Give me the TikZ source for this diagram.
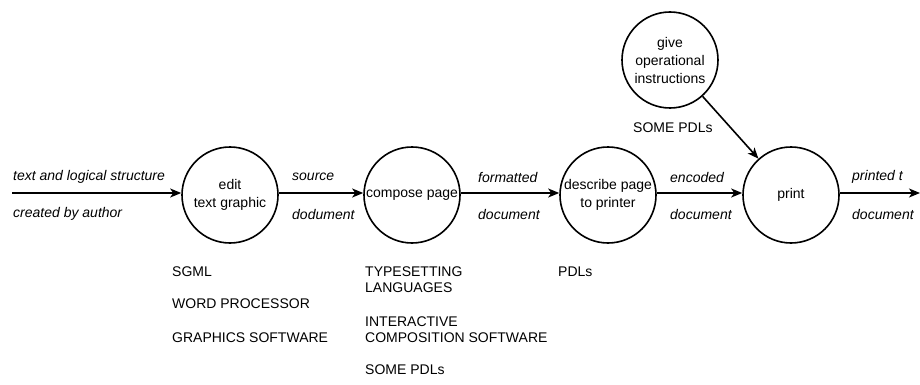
\documentclass[tikz,border=0pt]{standalone}
\usepackage{fontspec}
\setmainfont{Liberation Sans}
\usetikzlibrary{arrows.meta}
\begin{document}
\begin{tikzpicture}[x=1pt,y=-1pt,
  proc/.style={circle,draw,line width=1.6pt,minimum size=96pt,inner sep=0pt,align=center,
    font=\fontsize{14}{18}\selectfont},
  flow/.style={line width=1.6pt,-{Stealth[length=11pt,width=9pt,inset=3pt]}},
  lab/.style={anchor=west,inner sep=0pt,font=\fontsize{14}{16}\selectfont\itshape},
  tool/.style={anchor=north west,inner sep=0pt,align=left,font=\fontsize{14}{16}\selectfont}]
\useasboundingbox (0,0) rectangle (920,385);
\node[proc] (edit) at (230,195) {edit\\text graphic};
\node[proc] (compose) at (412,195) {compose page};
\node[proc] (describe) at (608,195) {describe page\\to printer};
\node[proc] (print) at (791,195) {print};
\node[proc] (give) at (670,60) {give\\operational\\instructions};
\coordinate (in) at (12,193);
\coordinate (out) at (920,193);
\draw[flow] (in) -- (edit.west |- in);
\draw[flow] (edit.east |- in) -- (compose.west |- in);
\draw[flow] (compose.east |- in) -- (describe.west |- in);
\draw[flow] (describe.east |- in) -- (print.west |- in);
\draw[flow] (print.east |- in) -- (out);
\draw[flow] (give) -- (print);
\node[lab] (l1) at (13,177) {text and logical structure};
\node[lab] (l2) at (13,214) {created by author};
\node[lab] (l3) at (292,177) {source};
\node[lab] (l4) at (292,214) {dodument};
\node[lab] (l5) at (478,177) {formatted};
\node[lab] (l6) at (478,214) {document};
\node[lab] (l7) at (670,177) {encoded};
\node[lab] (l8) at (670,214) {document};
\node[lab] (l9) at (852,177) {printed t};
\node[lab] (l10) at (852,214) {document};
\node[tool] (t0) at (633,123) {SOME PDLs};
\node[tool] (t1) at (172,267) {SGML};
\node[tool] (t2) at (172,299) {WORD PROCESSOR};
\node[tool] (t3) at (172,333) {GRAPHICS SOFTWARE};
\node[tool] (t4) at (365,267) {TYPESETTING\\LANGUAGES};
\node[tool] (t5) at (365,317) {INTERACTIVE\\COMPOSITION SOFTWARE};
\node[tool] (t6) at (365,365) {SOME PDLs};
\node[tool] (t7) at (558,267) {PDLs};
\end{tikzpicture}
\end{document}
